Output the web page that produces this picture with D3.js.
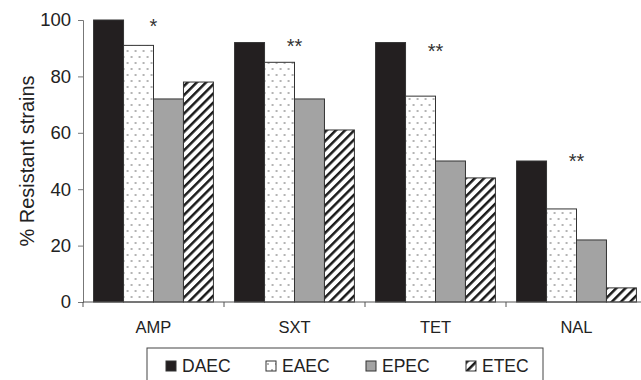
<!DOCTYPE html>
<html>
<head>
<meta charset="utf-8">
<script src="https://cdn.jsdelivr.net/npm/d3@7"></script>
<style>
  body { margin: 0; background: #fff; }
  svg { display: block; font-family: "Liberation Sans", Arial, sans-serif; }
</style>
</head>
<body>
<svg id="chart" width="641" height="380"></svg>
<script>
// data
var categories = ["AMP", "SXT", "TET", "NAL"];
var series = ["DAEC", "EAEC", "EPEC", "ETEC"];
var daec = [100, 92, 92, 50];
var eaec = [91, 85, 73, 33];
var epec = [72, 72, 50, 22];
var etec = [78, 61, 44, 5];
var values = [daec, eaec, epec, etec];
var stars = ["*", "**", "**", "**"];
var starLevel = [99, 92, 90, 51];
var yTicks = [0, 20, 40, 60, 80, 100];

var svg = d3.select("#chart");
var plotLeft = 83, plotTop = 20, plotBottom = 302, plotRight = 647;

var defs = svg.append("defs");
var dots = defs.append("pattern").attr("id", "dots")
    .attr("patternUnits", "userSpaceOnUse").attr("width", 8).attr("height", 12);
dots.append("rect").attr("width", 8).attr("height", 12).attr("fill", "#fff");
dots.append("circle").attr("cx", 2).attr("cy", 3).attr("r", 0.8).attr("fill", "#555");
dots.append("circle").attr("cx", 6).attr("cy", 9).attr("r", 0.8).attr("fill", "#555");

var hatch = defs.append("pattern").attr("id", "hatch")
    .attr("patternUnits", "userSpaceOnUse").attr("width", 6.5).attr("height", 6.5)
    .attr("patternTransform", "rotate(45)");
hatch.append("rect").attr("width", 6.5).attr("height", 6.5).attr("fill", "#fff");
hatch.append("rect").attr("x", 0).attr("width", 2.5).attr("height", 6.5).attr("fill", "#1a1a1a");

var fills = {DAEC: "#231f20", EAEC: "url(#dots)", EPEC: "#a3a3a3", ETEC: "url(#hatch)"};

var x0 = d3.scaleBand().domain(categories).range([plotLeft, plotRight])
    .paddingInner(0.15).paddingOuter(0.075);
var x1 = d3.scaleBand().domain(series).range([0, x0.bandwidth()]);
var y = d3.scaleLinear().domain([0, 100]).range([plotBottom, plotTop]);

// bars
var groups = svg.append("g").selectAll("g")
    .data(categories)
    .enter().append("g")
    .attr("transform", function (c) { return "translate(" + x0(c) + ",0)"; });

groups.selectAll("rect")
    .data(function (c, i) { return series.map(function (s, j) { return {s: s, v: values[j][i]}; }); })
    .enter().append("rect")
    .attr("x", function (d) { return x1(d.s); })
    .attr("y", function (d) { return y(d.v); })
    .attr("width", x1.bandwidth())
    .attr("height", function (d) { return y(0) - y(d.v); })
    .attr("fill", function (d) { return fills[d.s]; })
    .attr("stroke", "#333")
    .attr("stroke-width", 1);

// significance stars
svg.append("g").selectAll("text")
    .data(categories)
    .enter().append("text")
    .attr("x", function (c) { return x0(c) + x0.bandwidth() / 2; })
    .attr("y", function (c, i) { return y(starLevel[i]) + 10; })
    .attr("text-anchor", "middle")
    .attr("font-size", 20)
    .attr("fill", "#333")
    .text(function (c, i) { return stars[i]; });

// y axis
var yAxis = svg.append("g")
    .attr("transform", "translate(" + plotLeft + ",0)")
    .call(d3.axisLeft(y).tickValues(yTicks).tickSize(5).tickPadding(7));
yAxis.select(".domain").attr("stroke", "#777");
yAxis.selectAll(".tick line").attr("stroke", "#777");
yAxis.selectAll("text").attr("font-size", 18.5).attr("fill", "#222")
    .style("font-family", "Liberation Sans, Arial, sans-serif");

// x axis
var xa = svg.append("g").attr("transform", "translate(0," + plotBottom + ")");
xa.append("line").attr("x1", plotLeft).attr("x2", 641).attr("stroke", "#555");
xa.selectAll("line.tk")
    .data(categories)
    .enter().append("line").attr("class", "tk")
    .attr("x1", function (c) { return x0(c) - x0.step() * 0.075; })
    .attr("x2", function (c) { return x0(c) - x0.step() * 0.075; })
    .attr("y1", 0).attr("y2", 5).attr("stroke", "#555");
xa.selectAll("text")
    .data(categories)
    .enter().append("text")
    .attr("x", function (c) { return x0(c) + x0.bandwidth() / 2; })
    .attr("y", 31)
    .attr("text-anchor", "middle")
    .attr("font-size", 16.5)
    .attr("fill", "#222")
    .text(function (c) { return c; });

// y title
svg.append("text")
    .attr("transform", "translate(34," + (plotTop + plotBottom) / 2 + ") rotate(-90)")
    .attr("text-anchor", "middle")
    .attr("font-size", 20)
    .attr("fill", "#222")
    .text("% Resistant strains");

// legend
var lg = svg.append("g").attr("transform", "translate(147,348)");
lg.append("rect").attr("width", 396).attr("height", 40)
    .attr("fill", "#fff").attr("stroke", "#444").attr("stroke-width", 1);
var item = lg.selectAll("g.item")
    .data(series)
    .enter().append("g").attr("class", "item")
    .attr("transform", function (s, i) { return "translate(" + (19 + i * 100) + ",13)"; });
item.append("rect").attr("width", 10).attr("height", 10)
    .attr("fill", function (s) { return fills[s]; })
    .attr("stroke", "#333");
item.append("text").attr("x", 16).attr("y", 11)
    .attr("font-size", 17.5).attr("fill", "#222")
    .text(function (s) { return s; });
</script>
</body>
</html>
